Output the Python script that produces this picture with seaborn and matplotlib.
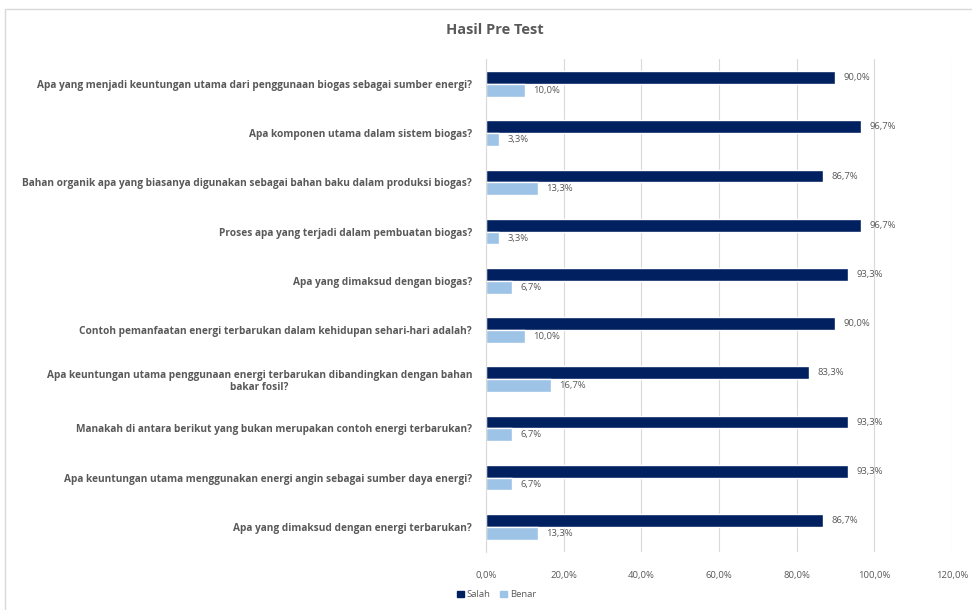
import matplotlib
matplotlib.use("Agg")
import matplotlib.pyplot as plt
import seaborn as sns
import pandas as pd

# data
questions = [
    "Apa yang menjadi keuntungan utama dari penggunaan biogas sebagai sumber energi?",
    "Apa komponen utama dalam sistem biogas?",
    "Bahan organik apa yang biasanya digunakan sebagai bahan baku dalam produksi biogas?",
    "Proses apa yang terjadi dalam pembuatan biogas?",
    "Apa yang dimaksud dengan biogas?",
    "Contoh pemanfaatan energi terbarukan dalam kehidupan sehari-hari adalah?",
    "Apa keuntungan utama penggunaan energi terbarukan dibandingkan dengan bahan\nbakar fosil?",
    "Manakah di antara berikut yang bukan merupakan contoh energi terbarukan?",
    "Apa keuntungan utama menggunakan energi angin sebagai sumber daya energi?",
    "Apa yang dimaksud dengan energi terbarukan?",
]
salah = [90.0, 96.7, 86.7, 96.7, 93.3, 90.0, 83.3, 93.3, 93.3, 86.7]
benar = [10.0, 3.3, 13.3, 3.3, 6.7, 10.0, 16.7, 6.7, 6.7, 13.3]
series = ["Salah", "Benar"]
x_ticks = [0, 20, 40, 60, 80, 100, 120]

df = pd.DataFrame({
    "Pertanyaan": questions * 2,
    "Nilai": salah + benar,
    "Jawaban": ["Salah"] * len(salah) + ["Benar"] * len(benar),
})

sns.set_style("white")
plt.rcParams["font.family"] = ["Open Sans", "DejaVu Sans"]
grey = "#595959"

fig = plt.figure(figsize=(9.72, 6.1), dpi=100)
ax = fig.add_axes([0.5, 0.0959, 0.4794, 0.8066])

sns.barplot(data=df, y="Pertanyaan", x="Nilai", hue="Jawaban", hue_order=series,
            order=questions, palette=["#002060", "#9DC3E6"], width=0.52,
            orient="h", ax=ax, legend=False, saturation=1)

for cont in ax.containers:
    ax.bar_label(cont, labels=[f"{v:.1f}%".replace(".", ",") for v in cont.datavalues],
                 padding=6, fontsize=6.8, color=grey)

ax.set_xlim(0, 120)
ax.set_xticks(x_ticks)
ax.set_xticklabels([f"{t:.1f}%".replace(".", ",") for t in x_ticks], fontsize=6.8, color=grey)
ax.tick_params(axis="x", length=0, pad=14)
ax.tick_params(axis="y", length=0, pad=10)
for lab in ax.get_yticklabels():
    lab.set_fontsize(7.3)
    lab.set_color(grey)
    lab.set_fontweight("bold")
    lab.set_multialignment("center")
ax.xaxis.grid(True, color="#D9D9D9", linewidth=0.8)
ax.set_axisbelow(True)
for side in ["top", "right", "bottom"]:
    ax.spines[side].set_visible(False)
ax.spines["left"].set_color("#D9D9D9")
ax.set_xlabel("")
ax.set_ylabel("")

fig.text(0.509, 0.95, "Hasil Pre Test", ha="center", va="center",
         fontsize=10.5, fontweight="bold", color=grey)

handles = [plt.Rectangle((0, 0), 1, 1, color=c) for c in ["#002060", "#9DC3E6"]]
fig.legend(handles, series, loc="center", bbox_to_anchor=(0.511, 0.025), ncol=2,
           frameon=False, fontsize=6.8, labelcolor=grey, handlelength=0.7,
           handleheight=0.7, handletextpad=0.3, columnspacing=1.0)

# chart border
fig.patches.append(plt.Rectangle((5 / 972, -0.01), 1.0, 1 - 9 / 610 + 0.01,
                                 transform=fig.transFigure, fill=False,
                                 edgecolor="#D9D9D9", linewidth=1))

fig.savefig("out.png", dpi=100)
